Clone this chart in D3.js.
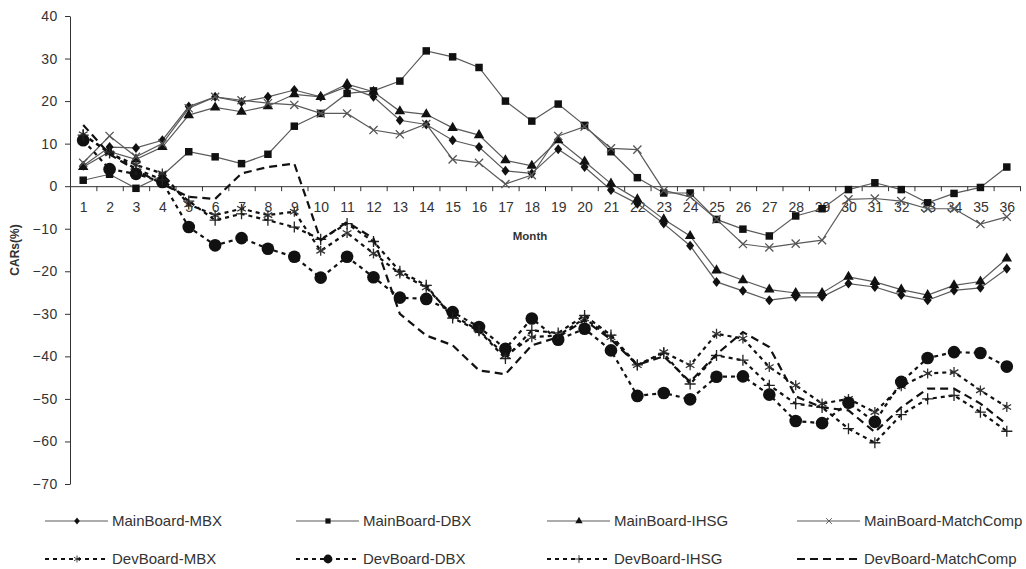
<!DOCTYPE html>
<html>
<head>
<meta charset="utf-8">
<script src="https://cdn.jsdelivr.net/npm/d3@7"></script>
<style>
  body { margin: 0; background: #fff; }
  svg { font-family: "Liberation Sans", Arial, sans-serif; }
</style>
</head>
<body>
<script>
// months on the x axis, y ticks
const months = d3.range(1, 37);
const yTicks = d3.range(-70, 41, 10);

// CARs (%), month 1..36
const mainMBX = [4.8, 9.2, 9.0, 10.8, 18.7, 21.0, 19.8, 21.0, 22.6, 21.0, 23.4, 21.0,
  15.5, 14.5, 10.8, 9.2, 3.6, 3.0, 8.7, 4.5, -0.9, -4.1, -8.8, -14.0,
  -22.5, -24.6, -26.8, -26.0, -26.0, -22.9, -23.7, -25.6, -26.8, -24.5, -23.9, -19.4];
const mainDBX = [1.4, 2.8, -0.5, 2.5, 8.1, 6.9, 5.3, 7.5, 14.1, 17.1, 21.8, 22.4,
  24.7, 31.8, 30.4, 27.9, 20.0, 15.3, 19.3, 14.3, 8.1, 2.0, -1.6, -1.6,
  -7.8, -10.1, -11.7, -7.0, -5.3, -0.8, 0.8, -0.8, -3.9, -1.7, -0.3, 4.5];
const mainIHSG = [4.5, 8.1, 6.3, 9.2, 16.7, 18.5, 17.5, 18.8, 21.6, 21.0, 24.0, 22.2,
  17.6, 16.9, 13.7, 12.0, 6.1, 4.8, 10.8, 5.8, 0.6, -3.1, -7.8, -11.7,
  -19.8, -22.1, -24.3, -25.1, -25.1, -21.3, -22.5, -24.3, -25.6, -23.3, -22.4, -17.0];
const mainMatch = [5.5, 11.8, 6.9, 10.0, 18.3, 21.0, 20.2, 19.5, 19.1, 17.1, 17.1, 13.2,
  12.2, 14.6, 6.3, 5.5, 0.5, 2.6, 11.8, 14.0, 8.9, 8.6, -1.0, -2.5,
  -7.8, -13.6, -14.4, -13.5, -12.7, -3.1, -2.9, -3.5, -5.3, -5.3, -8.9, -7.2];
const devMBX = [12.2, 7.7, 5.0, 3.0, -4.3, -6.8, -5.3, -6.8, -6.0, -15.2, -11.0, -15.8,
  -20.5, -23.8, -30.4, -33.9, -39.8, -35.5, -35.1, -31.1, -35.5, -42.1, -39.0, -42.1,
  -34.7, -35.8, -42.5, -46.8, -51.1, -50.0, -53.1, -47.0, -44.0, -43.7, -48.0, -51.9];
const devDBX = [10.8, 4.0, 2.9, 1.0, -9.6, -13.9, -12.2, -14.7, -16.6, -21.5, -16.6, -21.4,
  -26.2, -26.5, -29.6, -33.1, -38.2, -31.1, -36.1, -33.5, -38.6, -49.3, -48.6, -50.1,
  -44.8, -44.7, -49.0, -55.2, -55.7, -50.9, -55.4, -46.0, -40.4, -39.0, -39.2, -42.4];
const devIHSG = [12.0, 8.0, 4.0, 1.5, -3.5, -8.0, -6.5, -8.0, -9.6, -12.5, -8.8, -13.0,
  -20.0, -23.3, -31.0, -34.0, -40.5, -33.9, -34.5, -30.4, -35.0, -42.0, -39.3, -46.5,
  -39.8, -40.9, -46.8, -51.1, -52.0, -57.0, -60.3, -53.7, -50.0, -49.2, -53.1, -57.6];
const devMatch = [14.4, 7.5, 3.8, 0.5, -2.5, -3.0, 3.0, 4.5, 5.3, -12.7, -8.4, -12.3,
  -30.0, -35.1, -37.4, -43.3, -44.2, -37.4, -35.5, -31.5, -36.0, -42.0, -40.0, -46.0,
  -39.5, -34.3, -37.8, -49.4, -52.0, -52.7, -57.8, -52.0, -47.6, -47.6, -51.1, -56.0];

const seriesNames = ["MainBoard-MBX", "MainBoard-DBX", "MainBoard-IHSG", "MainBoard-MatchComp",
  "DevBoard-MBX", "DevBoard-DBX", "DevBoard-IHSG", "DevBoard-MatchComp"];

const width = 1026;
const height = 569;
const margin = { top: 16, right: 6, bottom: 85, left: 70 };

// small custom marker shapes
const diamondShape = {
  draw(ctx, size) {
    const r = Math.sqrt(size) / 2;
    ctx.moveTo(0, -r * 1.25);
    ctx.lineTo(r, 0);
    ctx.lineTo(0, r * 1.25);
    ctx.lineTo(-r, 0);
    ctx.closePath();
  }
};

const markers = {
  diamond: { type: diamondShape, size: 64, fill: "#111", stroke: "none" },
  square: { type: d3.symbolSquare, size: 56, fill: "#111", stroke: "none" },
  triangle: { type: d3.symbolTriangle, size: 48, fill: "#111", stroke: "none" },
  x: { type: d3.symbolX, size: 45, fill: "none", stroke: "#555" },
  asterisk: { type: d3.symbolAsterisk, size: 70, fill: "none", stroke: "#333" },
  circle: { type: d3.symbolCircle, size: 125, fill: "#111", stroke: "none" },
  plus: { type: d3.symbolPlus, size: 42, fill: "none", stroke: "#222" },
  none: null
};

const series = [
  { name: seriesNames[0], values: mainMBX, marker: "diamond", dash: null },
  { name: seriesNames[1], values: mainDBX, marker: "square", dash: null },
  { name: seriesNames[2], values: mainIHSG, marker: "triangle", dash: null },
  { name: seriesNames[3], values: mainMatch, marker: "x", dash: null },
  { name: seriesNames[4], values: devMBX, marker: "asterisk", dash: "4,4" },
  { name: seriesNames[5], values: devDBX, marker: "circle", dash: "4,4" },
  { name: seriesNames[6], values: devIHSG, marker: "plus", dash: "4,4" },
  { name: seriesNames[7], values: devMatch, marker: "none", dash: "8,5" }
];

const svg = d3.select("body")
  .append("svg")
  .attr("width", width)
  .attr("height", height);

svg.append("rect").attr("width", width).attr("height", height).attr("fill", "#fff");

const xScale = d3.scaleLinear()
  .domain([0.5, 36.5])
  .range([margin.left, 1020]);

const yScale = d3.scaleLinear()
  .domain([-70, 40])
  .range([height - margin.bottom, margin.top]);

// y axis
const yAxis = svg.append("g")
  .attr("transform", `translate(${margin.left},0)`)
  .call(d3.axisLeft(yScale).tickValues(yTicks).tickSize(5).tickSizeOuter(0).tickPadding(7));
yAxis.selectAll("text").style("font-size", "14px").style("letter-spacing", "0.6px").attr("fill", "#333");
yAxis.selectAll("line, path").attr("stroke", "#333");

// x axis at zero: ticks between months, labels under each month
const xTicks = svg.append("g")
  .attr("transform", `translate(0,${yScale(0)})`)
  .call(d3.axisBottom(xScale).tickValues(d3.range(0.5, 37, 1)).tickFormat("").tickSize(5).tickSizeOuter(0));
xTicks.selectAll("line, path").attr("stroke", "#333");

const xLabels = svg.append("g")
  .attr("transform", `translate(0,${yScale(0)})`)
  .call(d3.axisBottom(xScale).tickValues(months).tickSize(0).tickPadding(16));
xLabels.select(".domain").remove();
xLabels.selectAll("text").style("font-size", "14px").attr("fill", "#333");

// axis titles
svg.append("text")
  .attr("x", 530)
  .attr("y", 240)
  .attr("text-anchor", "middle")
  .style("font-size", "11.5px")
  .style("font-weight", "bold")
  .attr("fill", "#333")
  .text("Month");

svg.append("text")
  .attr("transform", "rotate(-90)")
  .attr("x", -250)
  .attr("y", 19)
  .attr("text-anchor", "middle")
  .style("font-size", "12px")
  .style("font-weight", "bold")
  .attr("fill", "#333")
  .text("CARs(%)");

const line = d3.line()
  .x((d, i) => xScale(months[i]))
  .y(d => yScale(d));

function drawMarker(sel, key) {
  const m = markers[key];
  if (!m) return sel;
  return sel.append("path")
    .attr("d", d3.symbol().type(m.type).size(m.size)())
    .attr("fill", m.fill)
    .attr("stroke", m.stroke)
    .attr("stroke-width", 1.3);
}

// lines + markers
series.forEach(s => {
  const g = svg.append("g");
  g.append("path")
    .datum(s.values)
    .attr("d", line)
    .attr("fill", "none")
    .attr("stroke", s.dash ? "#111" : "#5a5a5a")
    .attr("stroke-width", s.dash ? 2.2 : 1.2)
    .attr("stroke-dasharray", s.dash);

  if (markers[s.marker]) {
    g.selectAll(".pt")
      .data(s.values)
      .enter()
      .append("g")
      .attr("transform", (d, i) => `translate(${xScale(months[i])},${yScale(d)})`)
      .each(function() { drawMarker(d3.select(this), s.marker); });
  }
});

// legend, two rows of four
const legendX = [45, 296, 547, 797];
const legendY = [521, 559];

series.forEach((s, i) => {
  const lg = svg.append("g")
    .attr("transform", `translate(${legendX[i % 4]},${legendY[Math.floor(i / 4)]})`);
  lg.append("line")
    .attr("x1", 0).attr("x2", 63)
    .attr("stroke", s.dash ? "#111" : "#5a5a5a")
    .attr("stroke-width", s.dash ? 2.2 : 1.2)
    .attr("stroke-dasharray", s.dash);
  if (markers[s.marker]) {
    const mk = lg.append("g").attr("transform", "translate(32,0) scale(0.7)");
    drawMarker(mk, s.marker);
  }
  lg.append("text")
    .attr("x", 67)
    .attr("dy", "0.35em")
    .style("font-size", "15px")
    .attr("fill", "#333")
    .text(s.name);
});
</script>
</body>
</html>
